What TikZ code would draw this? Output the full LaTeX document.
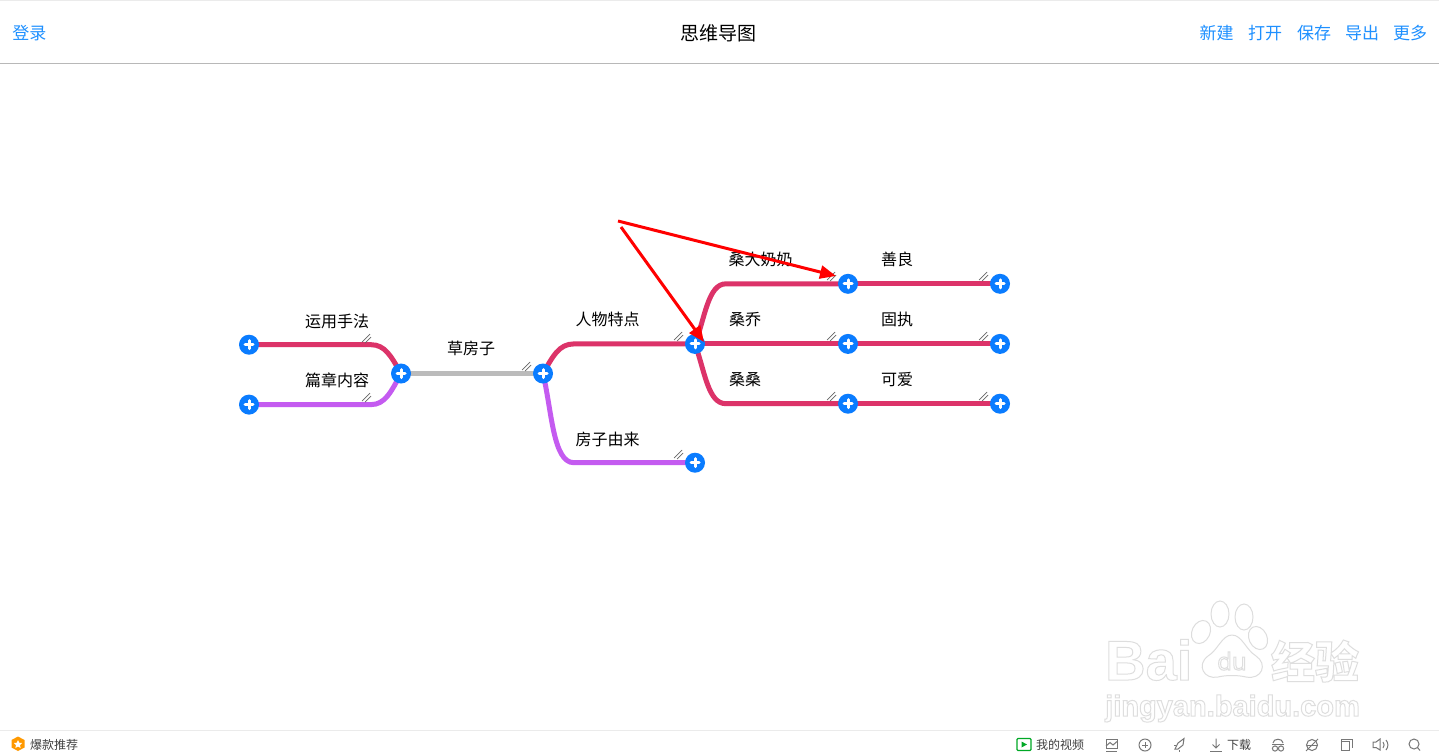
\documentclass[tikz,border=0pt]{standalone}
\usepackage{fontspec}
\setmainfont{Noto Sans CJK SC}
\newfontfamily\wmfont{Liberation Sans}[BoldFont={Liberation Sans Bold}]
\newfontfamily\wmroundfont{Open Sans}
\usetikzlibrary{arrows.meta,calc}
\definecolor{rosebr}{HTML}{DC3369}
\definecolor{purplebr}{HTML}{C45BF0}
\definecolor{graybr}{HTML}{BBBBBB}
\definecolor{plusblue}{HTML}{0A7CFF}
\definecolor{navblue}{HTML}{1E90FF}
\definecolor{icongray}{HTML}{777777}
\definecolor{wm}{HTML}{DDDDDD}
\newcommand{\outlinetext}[1]{\special{pdf:code q 1 Tr 1 w 0.87 0.87 0.87 RG}#1\special{pdf:code Q}}
\pgfdeclarelayer{canvas}\pgfdeclarelayer{back}\pgfsetlayers{canvas,back,main}
\tikzset{
  branch/.style={line width=5pt,line cap=butt},
  rosebranch/.style={branch,draw=rosebr},
  purplebranch/.style={branch,draw=purplebr},
  graybranch/.style={branch,draw=graybr},
  addbtn/.style={circle,fill=plusblue,minimum size=20pt,inner sep=0pt,
    path picture={\draw[white,line width=3pt,line cap=round]
      ([xshift=-4pt]path picture bounding box.center)--([xshift=4pt]path picture bounding box.center)
      ([yshift=-4pt]path picture bounding box.center)--([yshift=4pt]path picture bounding box.center);}},
  lab/.style={font=\fontsize{16}{18}\selectfont,inner sep=0pt,text=black},
  nav/.style={font=\fontsize{17}{19}\selectfont,inner sep=0pt,text=navblue},
  foot/.style={font=\fontsize{12}{14}\selectfont,inner sep=0pt,text=black!75},
  redarrow/.style={draw=red,line width=3pt,-{Triangle[length=16pt,width=13pt]}},
  hatch/.style={draw=black!60,line width=0.7pt},
  icon/.style={draw=icongray,line width=1pt,fill=none},
  wmline/.style={draw=wm,line width=1pt,fill=white},
}
\newcommand{\hatchmark}[2]{%
  \draw[hatch] (#1-8,#2+0) -- (#1,#2-8);
  \draw[hatch] (#1-5,#2+1) -- (#1+1,#2-5);}
\begin{document}
\begin{tikzpicture}[x=1pt,y=-1pt]
\useasboundingbox (0,0) rectangle (1439,755);
\begin{pgfonlayer}{canvas}
\fill[white] (0,0) rectangle (1439,755);
\end{pgfonlayer}
% frame lines
\coordinate (topL) at (0,0.5); \coordinate (topR) at (1439,0.5);
\draw[black!8,line width=1pt] (topL) -- (topR);
\coordinate (hL) at (0,63.5); \coordinate (hR) at (1439,63.5);
\draw[black!28,line width=1pt] (hL) -- (hR);
\coordinate (fL) at (0,730.5); \coordinate (fR) at (1439,730.5);
\draw[black!8,line width=1pt] (fL) -- (fR);
% header
\node[nav] (login) at (29.5,33) {登录};
\node[inner sep=0pt,font=\fontsize{19}{21}\selectfont] (title) at (718,33.5) {思维导图};
\node[nav] (nnew) at (1216.5,33) {新建};
\node[nav] (nopen) at (1265,33) {打开};
\node[nav] (nsave) at (1314,33) {保存};
\node[nav] (nexport) at (1362,33) {导出};
\node[nav] (nmore) at (1410,33) {更多};
% add buttons
\node[addbtn] (a1) at (249,344.7) {};
\node[addbtn] (a2) at (249,404.6) {};
\node[addbtn] (left) at (401,373.5) {};
\node[addbtn] (root) at (543,373.5) {};
\node[addbtn] (rw) at (695,343.9) {};
\node[addbtn] (fz) at (695,462.7) {};
\node[addbtn] (n1) at (848,283.8) {};
\node[addbtn] (n2) at (848,343.9) {};
\node[addbtn] (n3) at (848,403.7) {};
\node[addbtn] (m1) at (1000,283.8) {};
\node[addbtn] (m2) at (1000,343.9) {};
\node[addbtn] (m3) at (1000,403.7) {};
% bend points
\coordinate (b1) at (371,344.7);
\coordinate (b2) at (371,404.6);
\coordinate (b3) at (574,343.9);
\coordinate (b4) at (574,462.7);
\coordinate (b5) at (726,283.8);
\coordinate (b6) at (726,403.7);
\begin{pgfonlayer}{back}
\draw[rosebranch] (left.center) .. controls (391,356) and (385,344.7) .. (b1) -- (a1.center);
\draw[purplebranch] (left.center) .. controls (391,392) and (385,404.6) .. (b2) -- (a2.center);
\draw[graybranch] (left.center) -- (root.center);
\draw[rosebranch] (root.center) .. controls (553,356) and (559,343.9) .. (b3) -- (rw.center);
\draw[purplebranch] (root.center) .. controls (552,412) and (553,462.7) .. (b4) -- (fz.center);
\draw[rosebranch] (rw.center) .. controls (705,318) and (708,283.8) .. (b5) -- (n1.center);
\draw[rosebranch] (rw.center) -- (n2.center);
\draw[rosebranch] (rw.center) .. controls (705,372) and (708,403.7) .. (b6) -- (n3.center);
\draw[rosebranch] (n1.center) -- (m1.center);
\draw[rosebranch] (n2.center) -- (m2.center);
\draw[rosebranch] (n3.center) -- (m3.center);
\end{pgfonlayer}
% hatch marks
\hatchmark{370}{342}\hatchmark{370}{401}\hatchmark{530}{370}
\hatchmark{682}{340}\hatchmark{682}{458}
\hatchmark{835}{280}\hatchmark{835}{340}\hatchmark{835}{400}
\hatchmark{987}{280}\hatchmark{987}{340}\hatchmark{987}{400}
% labels
\node[lab] (t1) at (337,321) {运用手法};
\node[lab] (t2) at (337,380) {篇章内容};
\node[lab] (t3) at (471,348.5) {草房子};
\node[lab] (t4) at (607.5,319) {人物特点};
\node[lab] (t5) at (607.5,439) {房子由来};
\node[lab] (t6) at (760.5,259.5) {桑大奶奶};
\node[lab] (t7) at (745,319.5) {桑乔};
\node[lab] (t8) at (745,379.5) {桑桑};
\node[lab] (t9) at (897,259.5) {善良};
\node[lab] (t10) at (897,319) {固执};
\node[lab] (t11) at (897,379.5) {可爱};
% red arrows
\coordinate (s1) at (618,221);
\coordinate (s2) at (621,227);
\coordinate (e1) at (836,276);
\coordinate (e2) at (704,342);
\draw[redarrow] (s1) -- (e1);
\draw[redarrow] (s2) -- (e2);
% watermark
\draw[wmline] (1220,614) ellipse [x radius=9,y radius=13];
\draw[wmline] (1244,617) ellipse [x radius=9,y radius=13];
\draw[wmline,rotate around={-25:(1201,632)}] (1201,632) ellipse [x radius=9,y radius=12];
\draw[wmline,rotate around={25:(1258,638)}] (1258,638) ellipse [x radius=9,y radius=12];
\draw[wmline] (1232,635) .. controls (1222,635) and (1218,650) .. (1208,656)
  .. controls (1196,665) and (1204,680) .. (1218,677)
  .. controls (1226,675) and (1238,675) .. (1246,677)
  .. controls (1262,680) and (1268,664) .. (1256,656)
  .. controls (1246,650) and (1242,635) .. (1232,635) -- cycle;
\node[inner sep=0pt,anchor=base west] (wmba) at (1105,680) {\wmfont\bfseries\fontsize{56}{56}\selectfont\outlinetext{Bai}};
\node[inner sep=0pt] (wmdu) at (1232,661) {\wmroundfont\fontsize{24}{24}\selectfont\outlinetext{du}};
\node[inner sep=0pt] (wmjy) at (1315,661) {\bfseries\fontsize{44}{44}\selectfont\outlinetext{经验}};
\node[inner sep=0pt,anchor=base west] (wmurl) at (1105,716) {\wmfont\bfseries\fontsize{29}{29}\selectfont\outlinetext{jingyan.baidu.com}};
% footer left
\coordinate (hexc) at (18,744);
\fill[orange!80!yellow] (11.5,740) -- (18,736.5) -- (24.5,740) -- (24.5,747.5) -- (18,751) -- (11.5,747.5) -- cycle;
\fill[white] (18,740) -- (19.2,742.7) -- (22,743) -- (20,745) -- (20.6,748) -- (18,746.5) -- (15.4,748) -- (16,745) -- (14,743) -- (16.8,742.7) -- cycle;
\node[foot,anchor=west] (hot) at (30,745) {爆款推荐};
% footer right
\draw[draw=green!60!black!85!cyan,line width=1.2pt,rounded corners=1pt] (1017,738.5) rectangle (1031,750.5);
\fill[green!60!black!85!cyan] (1021.5,741.5) -- (1027,744.5) -- (1021.5,747.5) -- cycle;
\node[foot,anchor=west] (video) at (1036,745) {我的视频};
\draw[icon] (1106,739) rectangle (1117,748);
\draw[icon] (1106,746) -- (1110,742.5) -- (1113,745) -- (1117,741.5);
\draw[icon] (1106,751) -- (1117,751);
\draw[icon] (1145,745) circle [radius=6];
\draw[icon] (1142,745) -- (1148,745) (1145,742) -- (1145,748);
\draw[icon] (1175,749) -- (1178,743) -- (1184,738.5) -- (1183,745) -- (1178,749) -- cycle;
\draw[icon] (1176,745) -- (1174,745) (1179,750) -- (1179,751.5);
\draw[icon] (1216,738.5) -- (1216,748) (1212.5,744.5) -- (1216,748) -- (1219.5,744.5);
\draw[icon] (1210,751) -- (1222,751);
\node[foot,anchor=west] (dl) at (1227,744.5) {下载};
\draw[icon] (1273,743) .. controls (1273,738) and (1283,738) .. (1283,743);
\draw[icon] (1272,744) -- (1284,744);
\draw[icon] (1275,748.5) circle [radius=2.6];
\draw[icon] (1281,748.5) circle [radius=2.6];
\draw[icon] (1312,745) circle [radius=5.5];
\draw[icon] (1307,745) -- (1317,745);
\draw[icon] (1306,751) -- (1318,739);
\draw[icon] (1341,739) -- (1352,739) -- (1352,748);
\draw[icon] (1341,739) -- (1341,741) (1341,741) rectangle (1349,750.5);
\draw[icon] (1373,742) -- (1376,742) -- (1380,739) -- (1380,750) -- (1376,747.5) -- (1373,747.5) -- cycle;
\draw[icon] (1383,742) .. controls (1384.5,744) and (1384.5,746) .. (1383,748);
\draw[icon] (1386,740) .. controls (1388.5,743) and (1388.5,747) .. (1386,750);
\draw[icon] (1414,744) circle [radius=5];
\draw[icon] (1417.5,747.5) -- (1420,750.5);
\end{tikzpicture}
\end{document}
